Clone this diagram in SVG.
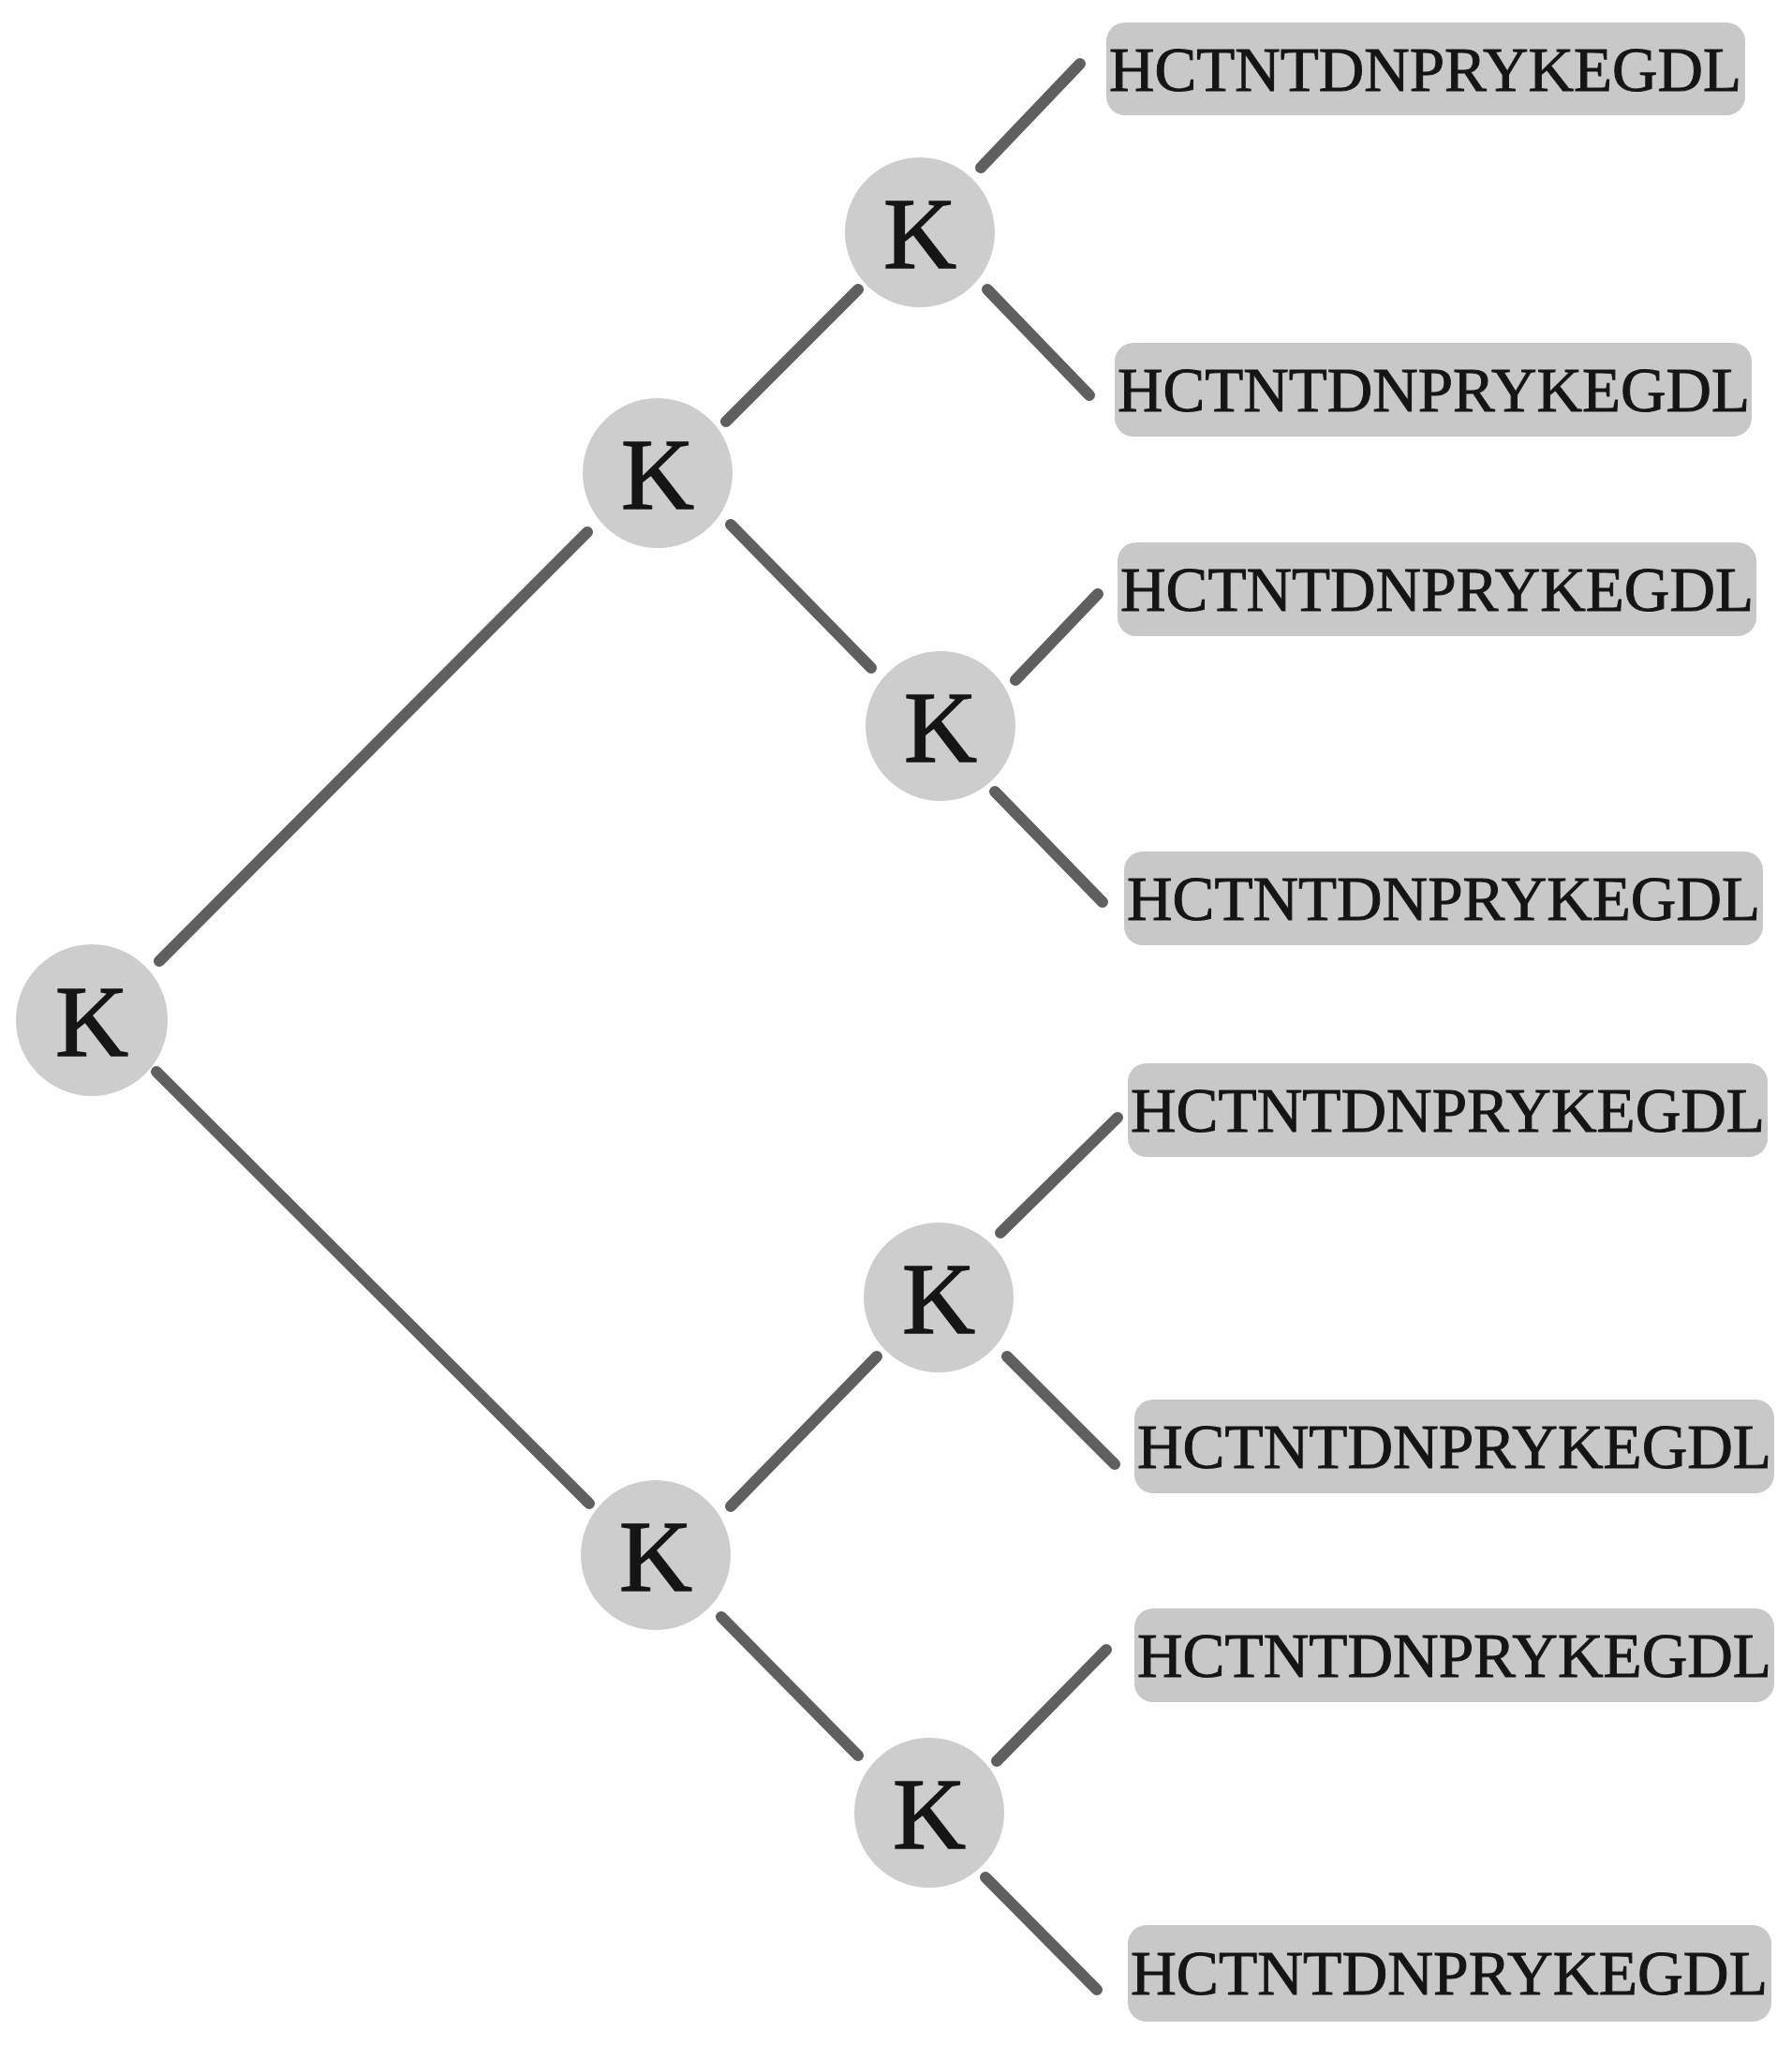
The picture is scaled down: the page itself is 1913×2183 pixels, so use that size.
<svg xmlns="http://www.w3.org/2000/svg" width="1913" height="2183" viewBox="0 0 1913 2183">
<style>
.edge{stroke:#5f5f5f;stroke-width:12;stroke-linecap:round;fill:none}
.kc{fill:#cdcdcd}
.kt{font-family:"Liberation Serif","Times New Roman",serif;font-size:108px;fill:#151515;stroke:#151515;stroke-width:1.5;text-anchor:middle}
.box{fill:#c8c8c8}
.bt{font-family:"Liberation Serif","Times New Roman",serif;font-size:68px;fill:#151515;stroke:#151515;stroke-width:1}
</style>
<rect width="1913" height="2183" fill="#ffffff"/>
<g id="connectors">
<line class="edge" x1="170" y1="1026" x2="627" y2="568"/>
<line class="edge" x1="167" y1="1144" x2="629" y2="1605"/>
<line class="edge" x1="775" y1="450" x2="916" y2="309"/>
<line class="edge" x1="780" y1="560" x2="930" y2="713"/>
<line class="edge" x1="1047" y1="179" x2="1153" y2="68"/>
<line class="edge" x1="1054" y1="309" x2="1163" y2="422"/>
<line class="edge" x1="1084" y1="726" x2="1172" y2="634"/>
<line class="edge" x1="1062" y1="845" x2="1177" y2="963"/>
<line class="edge" x1="780" y1="1608" x2="936" y2="1448"/>
<line class="edge" x1="770" y1="1726" x2="916" y2="1874"/>
<line class="edge" x1="1068" y1="1316" x2="1193" y2="1193"/>
<line class="edge" x1="1075" y1="1448" x2="1190" y2="1563"/>
<line class="edge" x1="1064" y1="1880" x2="1181" y2="1761"/>
<line class="edge" x1="1052" y1="2004" x2="1171" y2="2124"/>
</g>
<g id="k-root"><circle class="kc" cx="98" cy="1089" r="81"/><text class="kt" x="98" y="1127">K</text></g>
<g id="k-upper"><circle class="kc" cx="702" cy="505" r="80"/><text class="kt" x="702" y="543">K</text></g>
<g id="k-top"><circle class="kc" cx="982" cy="248" r="80"/><text class="kt" x="982" y="286">K</text></g>
<g id="k-upper2"><circle class="kc" cx="1004" cy="775" r="80"/><text class="kt" x="1004" y="813">K</text></g>
<g id="k-lower"><circle class="kc" cx="700" cy="1660" r="80"/><text class="kt" x="700" y="1698">K</text></g>
<g id="k-lower1"><circle class="kc" cx="1002" cy="1385" r="80"/><text class="kt" x="1002" y="1423">K</text></g>
<g id="k-bottom"><circle class="kc" cx="992" cy="1935" r="80"/><text class="kt" x="992" y="1973">K</text></g>
<g id="seq1"><rect class="box" x="1181" y="24" width="682" height="99" rx="20"/><text class="bt" x="1184" y="97" textLength="675" lengthAdjust="spacingAndGlyphs">HCTNTDNPRYKEGDL</text></g>
<g id="seq2"><rect class="box" x="1190" y="366" width="680" height="100" rx="20"/><text class="bt" x="1193" y="439" textLength="675" lengthAdjust="spacingAndGlyphs">HCTNTDNPRYKEGDL</text></g>
<g id="seq3"><rect class="box" x="1193" y="579" width="682" height="100" rx="20"/><text class="bt" x="1196" y="652" textLength="676" lengthAdjust="spacingAndGlyphs">HCTNTDNPRYKEGDL</text></g>
<g id="seq4"><rect class="box" x="1200" y="909" width="682" height="100" rx="20"/><text class="bt" x="1203" y="982" textLength="676" lengthAdjust="spacingAndGlyphs">HCTNTDNPRYKEGDL</text></g>
<g id="seq5"><rect class="box" x="1204" y="1135" width="683" height="100" rx="20"/><text class="bt" x="1207" y="1208" textLength="677" lengthAdjust="spacingAndGlyphs">HCTNTDNPRYKEGDL</text></g>
<g id="seq6"><rect class="box" x="1211" y="1494" width="683" height="100" rx="20"/><text class="bt" x="1214" y="1567" textLength="677" lengthAdjust="spacingAndGlyphs">HCTNTDNPRYKEGDL</text></g>
<g id="seq7"><rect class="box" x="1211" y="1717" width="683" height="100" rx="20"/><text class="bt" x="1214" y="1790" textLength="677" lengthAdjust="spacingAndGlyphs">HCTNTDNPRYKEGDL</text></g>
<g id="seq8"><rect class="box" x="1204" y="2055" width="687" height="103" rx="20"/><text class="bt" x="1207" y="2129" textLength="680" lengthAdjust="spacingAndGlyphs">HCTNTDNPRYKEGDL</text></g>
</svg>
